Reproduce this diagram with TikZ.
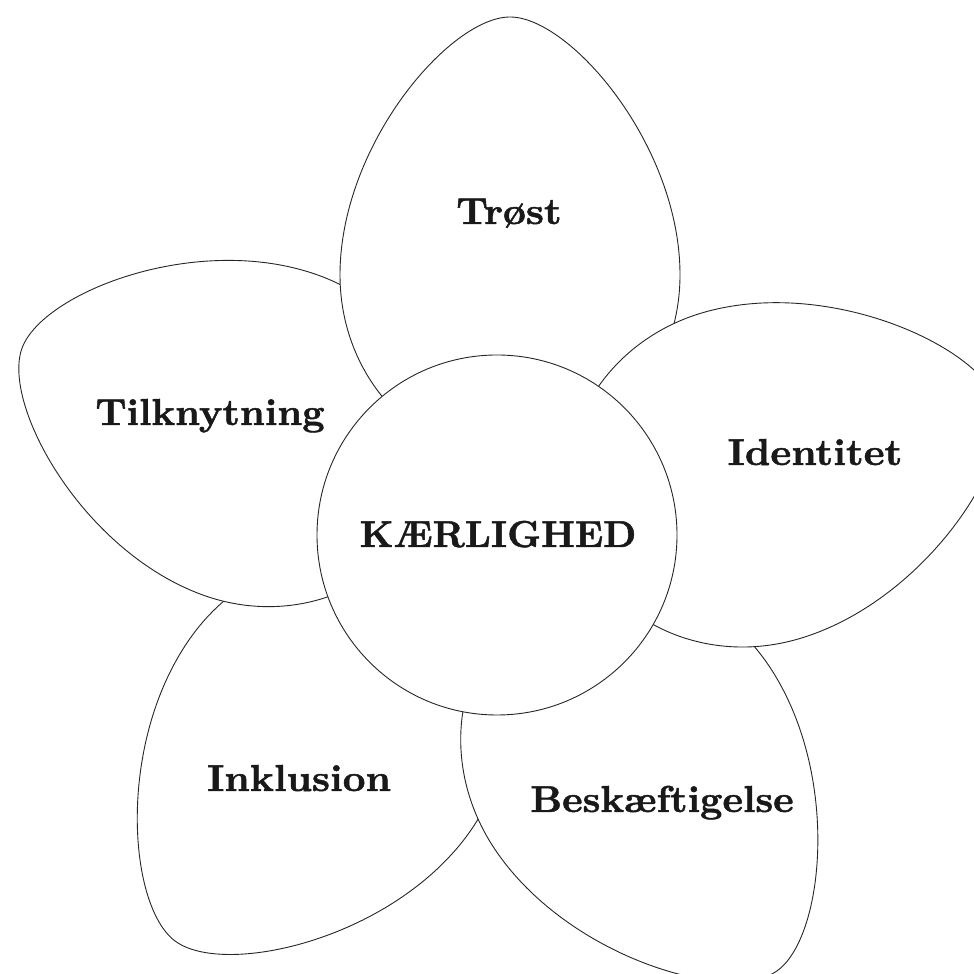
\documentclass[tikz,border=0pt]{standalone}
\usepackage{fontspec}
\usepackage{graphicx}
\newfontfamily\lblfont{lmroman10-bold.otf}[FakeBold=1.2]
\tikzset{
  petalline/.style={draw=black!85, line width=0.9pt, fill=white},
  petal/.pic={\path[petalline] (13,518) .. controls (-47,518) and (-157,390) .. (-157,260)
      .. controls (-157,158) and (-81,76) .. (13,76)
      .. controls (107,76) and (183,158) .. (183,260)
      .. controls (183,390) and (73,518) .. (13,518) -- cycle;},
  lbl/.style={font=\fontsize{37.5}{42}\lblfont, inner sep=0pt, anchor=base, text=black!90},
  corecircle/.style={circle, draw=black!85, line width=0.9pt, fill=white, minimum size=360pt, inner sep=0pt}
}
\begin{document}
\begin{tikzpicture}[x=1pt,y=1pt]
\useasboundingbox (0,0) rectangle (974,974);
\clip (0,0) rectangle (974,974);
\coordinate (C) at (497,439);
% petals, back to front
\pic[rotate=143] at (C) {petal};
\pic[rotate=70, yscale=0.985] at (C) {petal};
\pic[rotate=0] at (C) {petal};
\pic[rotate=-146, xscale=0.97] at (C) {petal};
\pic[rotate=-74] at (C) {petal};
\node[corecircle] (core) at (C) {};
\node[lbl] (kaer) at (498,427) {KÆRLIGHED};
\node[lbl] (trost) at (509,750) {\scalebox{1.06}[1]{Trøst}};
\node[lbl] (tilk) at (210,549) {\scalebox{1.04}[1]{Tilknytning}};
\node[lbl] (ident) at (815,509) {\scalebox{1.06}[1]{Identitet}};
\node[lbl] (inkl) at (299,183) {\scalebox{1.06}[1]{Inklusion}};
\node[lbl] (besk) at (662,162) {\scalebox{1.04}[1]{Beskæftigelse}};
\end{tikzpicture}
\end{document}
